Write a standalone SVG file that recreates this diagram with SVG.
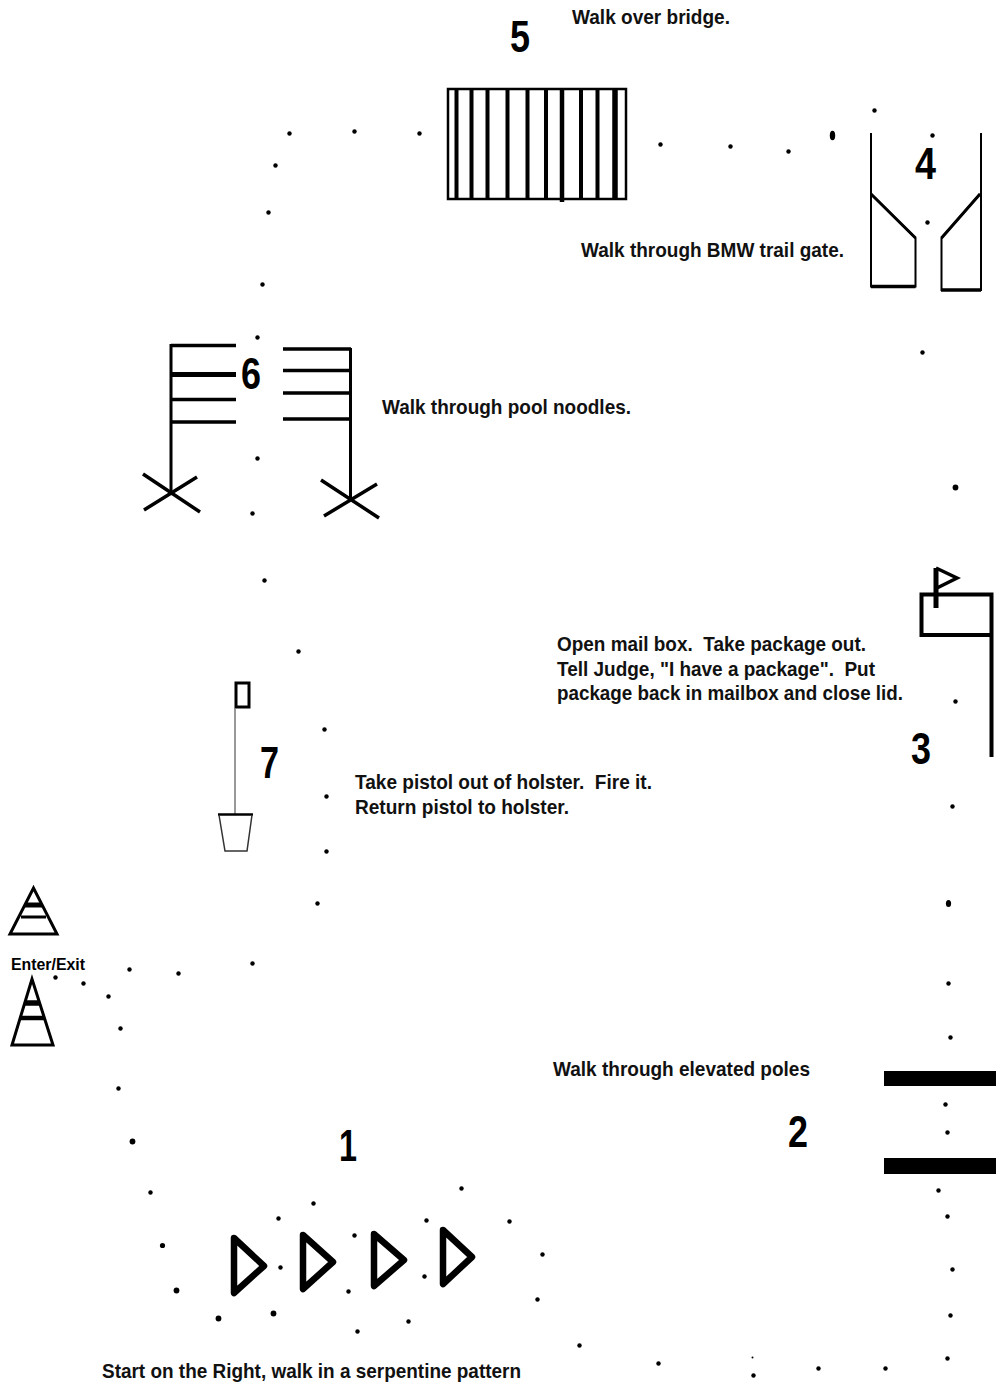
<svg xmlns="http://www.w3.org/2000/svg" width="996" height="1385" viewBox="0 0 996 1385">
<style>
text{font-family:"Liberation Sans",Arial,sans-serif;fill:#000;white-space:pre}
.t{font-size:21px;font-weight:bold;fill:#111}
.n{font-size:45px;font-weight:bold}
.l{fill:none;stroke:#000;stroke-width:3}
.b{fill:none;stroke:#000;stroke-width:6.5;stroke-linejoin:round;stroke-linecap:round}
.d circle,.d ellipse{fill:#000}
</style>
<rect width="996" height="1385" fill="#fff"/>
<g id="path-dots" class="d" transform="translate(.5 .5)">
<circle cx="289" cy="133" r="2.2"/><circle cx="354" cy="131" r="2.2"/><circle cx="419" cy="133" r="2.2"/><circle cx="275" cy="165" r="2.2"/><circle cx="268" cy="212" r="2.2"/><circle cx="262" cy="284" r="2.2"/><circle cx="257" cy="337" r="2.2"/><circle cx="257" cy="458" r="2.2"/><circle cx="252" cy="513" r="2.2"/><circle cx="264" cy="580" r="2.2"/><circle cx="298" cy="651" r="2.2"/><circle cx="324" cy="729" r="2.2"/><circle cx="326" cy="796" r="2.2"/><circle cx="326" cy="851" r="2.2"/><circle cx="317" cy="903" r="2.2"/><circle cx="252" cy="963" r="2.2"/><circle cx="178" cy="973" r="2.2"/><circle cx="129" cy="969" r="2.2"/><circle cx="55" cy="977" r="2.2"/><circle cx="83" cy="983" r="2.2"/><circle cx="108" cy="996" r="2.2"/><circle cx="120" cy="1028" r="2.2"/><circle cx="118" cy="1088" r="2.2"/><circle cx="132" cy="1141" r="2.9"/><circle cx="150" cy="1192" r="2.2"/><circle cx="162" cy="1245" r="2.6"/><circle cx="176" cy="1290" r="2.9"/><circle cx="218" cy="1318" r="2.9"/><circle cx="273" cy="1313" r="2.9"/><circle cx="278" cy="1218" r="2.2"/><circle cx="313" cy="1203" r="2.2"/><circle cx="280" cy="1267" r="2.2"/><circle cx="354" cy="1235" r="2.2"/><circle cx="348" cy="1291" r="2.2"/><circle cx="357" cy="1331" r="2.2"/><circle cx="408" cy="1321" r="2.2"/><circle cx="426" cy="1220" r="2.2"/><circle cx="424" cy="1276" r="2.2"/><circle cx="461" cy="1188" r="2.2"/><circle cx="509" cy="1221" r="2.2"/><circle cx="542" cy="1254" r="2.2"/><circle cx="537" cy="1299" r="2.2"/><circle cx="579" cy="1345" r="2.2"/><circle cx="658" cy="1363" r="2.2"/><circle cx="753" cy="1375" r="2.2"/><circle cx="752" cy="1357" r="1"/><circle cx="818" cy="1368" r="2.2"/><circle cx="885" cy="1368" r="2.2"/><circle cx="947" cy="1358" r="2.2"/><circle cx="950" cy="1315" r="2.2"/><circle cx="952" cy="1269" r="2.2"/><circle cx="947" cy="1216" r="2.2"/><circle cx="938" cy="1190" r="2.2"/><circle cx="947" cy="1132" r="2.2"/><circle cx="945" cy="1104" r="2.2"/><circle cx="950" cy="1037" r="2.2"/><circle cx="948" cy="983" r="2.2"/><ellipse cx="948" cy="903" rx="2.6" ry="3.6"/><circle cx="952" cy="806" r="2.2"/><circle cx="955" cy="701" r="2.2"/><circle cx="955" cy="487" r="2.9"/><circle cx="922" cy="352" r="2.2"/><circle cx="927" cy="222" r="2.2"/><circle cx="932" cy="135" r="2.2"/><circle cx="874" cy="110" r="2.2"/><ellipse cx="832" cy="135" rx="2.7" ry="4.7"/><circle cx="788" cy="151" r="2.2"/><circle cx="730" cy="146" r="2.2"/><circle cx="660" cy="144" r="2.2"/>
</g>
<g id="bridge">
<rect x="448" y="89" width="178" height="110" fill="none" stroke="#000" stroke-width="2.5"/>
<path d="M456.5 88V200M471.5 88V200M487.5 88V200M507.500 88V200M527.500 88V200M546 88V200M581 88V200M597.500 88V200" fill="none" stroke="#000" stroke-width="4"/>
<path d="M562 88V202" stroke="#000" stroke-width="4.500"/><path d="M615 88V200" stroke="#000" stroke-width="5.500"/>
<text class="n" x="510" y="52" textLength="20" lengthAdjust="spacingAndGlyphs">5</text>
<text class="t" x="572" y="24" textLength="158" lengthAdjust="spacingAndGlyphs">Walk over bridge.</text>
</g>
<g id="gate">
<path d="M871 133V286.500H915.500V238L871 194M981 133V290H941.500V238L980 194" fill="none" stroke="#000" stroke-width="2"/>
<path d="M871 194L915.500 238M941.500 238L980 194" fill="none" stroke="#000" stroke-width="3"/>
<path d="M871 286.500H915.500M941 290H981" stroke="#000" stroke-width="3.500" fill="none"/>
<text class="n" x="915" y="179" textLength="21" lengthAdjust="spacingAndGlyphs">4</text>
<text class="t" x="581" y="257" textLength="263" lengthAdjust="spacingAndGlyphs">Walk through BMW trail gate.</text>
</g>
<g id="noodles">
<path class="l" d="M171 344V493M350.500 348V498"/>
<path d="M171 345.500H236M171 399.500H236M171 422H236M283 349H351M283 370.500H351M283 393H351M283 419H351" stroke="#000" stroke-width="3.500" fill="none"/>
<path d="M171 374.500H236" stroke="#000" stroke-width="5" fill="none"/>
<path d="M143 474L200 512M144 510L197 477M321 480L379 518M324 516L377 484" fill="none" stroke="#000" stroke-width="3.500"/>
<text class="n" x="241" y="389" textLength="20" lengthAdjust="spacingAndGlyphs">6</text>
<text class="t" x="382" y="414" textLength="249" lengthAdjust="spacingAndGlyphs">Walk through pool noodles.</text>
</g>
<g id="mailbox">
<path d="M991.500 757V594.500H921.500V635H991.500" fill="none" stroke="#000" stroke-width="4"/>
<path d="M936 568V608" stroke="#000" stroke-width="5"/>
<path d="M936 568L957 578L937 588" fill="none" stroke="#000" stroke-width="3.500"/>
<text class="n" x="911" y="764" textLength="20" lengthAdjust="spacingAndGlyphs">3</text>
<text class="t" x="557" y="651" textLength="309" lengthAdjust="spacingAndGlyphs">Open mail box.  Take package out.</text>
<text class="t" x="557" y="676" textLength="318" lengthAdjust="spacingAndGlyphs">Tell Judge, "I have a package".  Put</text>
<text class="t" x="557" y="700" textLength="346" lengthAdjust="spacingAndGlyphs">package back in mailbox and close lid.</text>
</g>
<g id="target">
<rect x="236" y="683" width="13" height="24" fill="none" stroke="#000" stroke-width="3"/>
<path d="M235 708V814" stroke="#777" stroke-width="1.500"/>
<path d="M218 814.500H253" stroke="#000" stroke-width="2.500"/>
<path d="M219 815L225 851H247L252 815" fill="none" stroke="#333" stroke-width="1.500"/>
<text class="n" x="260" y="778" textLength="19" lengthAdjust="spacingAndGlyphs">7</text>
<text class="t" x="355" y="789" textLength="297" lengthAdjust="spacingAndGlyphs">Take pistol out of holster.  Fire it.</text>
<text class="t" x="355" y="814" textLength="214" lengthAdjust="spacingAndGlyphs">Return pistol to holster.</text>
</g>
<g id="enter-exit">
<path d="M10 934H57L33.500 888Z" fill="none" stroke="#000" stroke-width="3"/>
<path d="M25 905H42" stroke="#000" stroke-width="5"/><path d="M21 917H46" stroke="#000" stroke-width="3"/>
<path d="M12 1045H53L32 979Z" fill="none" stroke="#000" stroke-width="3"/>
<path d="M25 1003H40" stroke="#000" stroke-width="5.500"/><path d="M21 1018H44" stroke="#000" stroke-width="4.500"/>
<text x="11" y="970" font-size="17" font-weight="bold" fill="#111" textLength="74" lengthAdjust="spacingAndGlyphs">Enter/Exit</text>
</g>
<g id="poles">
<rect x="884" y="1071" width="112" height="15"/>
<rect x="884" y="1158" width="112" height="16"/>
<text class="n" x="788" y="1147" textLength="20" lengthAdjust="spacingAndGlyphs">2</text>
<text class="t" x="553" y="1076" textLength="257" lengthAdjust="spacingAndGlyphs">Walk through elevated poles</text>
</g>
<g id="serpentine">
<path class="b" d="M234 1238L264 1266L234 1293Z"/>
<path class="b" d="M303 1235L333 1262L303 1289Z"/>
<path class="b" d="M374 1234L404 1260L374 1286Z"/>
<path class="b" d="M443 1230L472 1257L443 1284Z"/>
<text class="n" x="339" y="1161" textLength="18" lengthAdjust="spacingAndGlyphs">1</text>
<text class="t" x="102" y="1378" textLength="419" lengthAdjust="spacingAndGlyphs">Start on the Right, walk in a serpentine pattern</text>
</g>
</svg>
